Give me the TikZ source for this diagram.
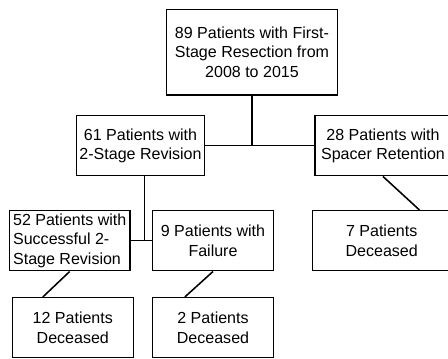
\documentclass[tikz,border=0pt]{standalone}
\usepackage{fontspec}
\setmainfont{Liberation Sans}
\usetikzlibrary{calc}

\tikzset{box/.style={draw, line width=1.1pt, align=center, inner sep=1pt, minimum height=1.5cm, font=\fontsize{11.4}{14}\selectfont},
line/.style={line width=1.1pt}}

\begin{document}
\begin{tikzpicture}[x=0.025cm,y=-0.025cm]
\useasboundingbox (0,0) rectangle (448,358);
\clip (0,0) rectangle (448,358);

\node[box, minimum width=4.265cm, minimum height=2.143cm] (first) at (252,52.2) {89 Patients with First-\\Stage Resection from\\2008 to 2015};

\node[box, minimum width=3.21cm] (revision) at (140.5,145.7) {61 Patients with\\2-Stage Revision};
\node[box, minimum width=3.4cm] (spacer) at (383,145.7) {28 Patients with\\Spacer Retention};

\node[box, align=left, minimum width=3.02cm] (success) at (69.7,240.7) {52 Patients with\\Successful 2-\\Stage Revision};
\node[box, minimum width=3.015cm] (failure) at (213,240.7) {9 Patients with\\Failure};
\node[box, minimum width=3.45cm] (deadspacer) at (381.7,240.7) {7 Patients\\Deceased};

\node[box, minimum width=3.025cm] (deadsuccess) at (72.8,327.7) {12 Patients\\Deceased};
\node[box, minimum width=3.015cm] (deadfailure) at (213,327.7) {2 Patients\\Deceased};

\draw[line] (first.south) -- (first.south |- revision.east);
\draw[line] (revision.east) -- (spacer.west);
\draw[line] ([xshift=0.1cm]revision.south) -- ([xshift=0.1cm]revision.south |- success.east);
\draw[line] (success.east) -- (failure.west);

\draw[line] (success.south) -- ($(deadsuccess.north west)!0.256!(deadsuccess.north east)$);
\draw[line] (failure.south) -- ($(deadfailure.north west)!0.27!(deadfailure.north east)$);
\draw[line] (spacer.south) -- ($(deadspacer.north west)!0.77!(deadspacer.north east)$);
\end{tikzpicture}
\end{document}
